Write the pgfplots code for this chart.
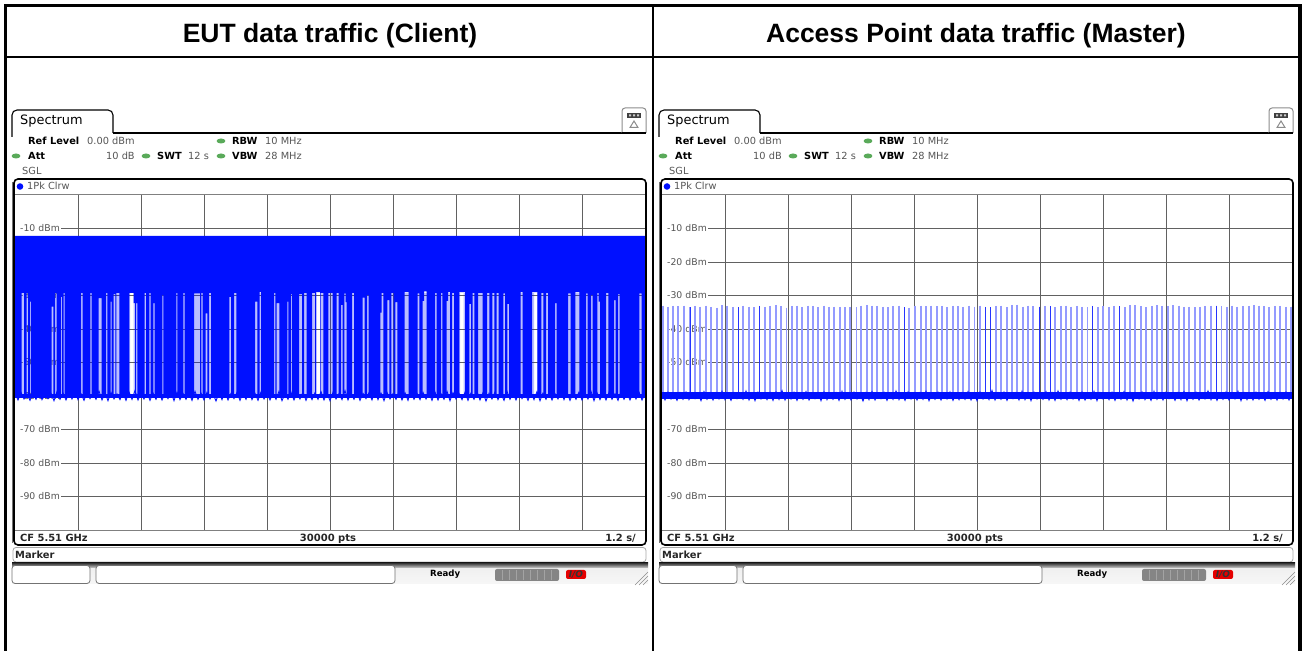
\documentclass[border=0pt]{standalone}
\usepackage{fontspec}
\usepackage{pgfplots}
\usepackage{pgfplotstable}
\pgfplotsset{compat=1.18}
\setmainfont{DejaVu Sans}
\newfontfamily\titlefont{Liberation Sans}
\definecolor{trace}{RGB}{0,16,255}
\definecolor{label}{RGB}{85,85,85}
\definecolor{led}{RGB}{90,170,90}

% noise floor of the trace, x is the trace position in display pixels, y in dBm
\pgfplotstableread[row sep=\\]{
x y\\
0 -59.1\\3 -61.2\\6 -58.9\\9 -60.9\\12 -59.3\\15 -61.3\\18 -59.0\\21 -61.0\\24 -58.8\\27 -61.1\\
30 -59.4\\33 -60.8\\36 -59.2\\39 -61.4\\42 -58.7\\45 -61.0\\48 -59.1\\51 -61.2\\54 -59.0\\57 -60.9\\
60 -58.6\\63 -61.1\\66 -59.3\\69 -61.3\\72 -59.0\\75 -60.8\\78 -59.2\\81 -61.0\\84 -58.5\\87 -61.2\\
90 -59.1\\93 -61.4\\96 -58.9\\99 -60.9\\102 -59.4\\105 -61.1\\108 -59.0\\111 -61.3\\114 -58.8\\117 -61.0\\
120 -58.4\\123 -61.2\\126 -59.2\\129 -60.9\\132 -58.9\\135 -61.3\\138 -59.1\\141 -61.0\\144 -58.7\\147 -61.2\\
150 -59.3\\153 -60.8\\156 -59.0\\159 -61.4\\162 -58.8\\165 -61.1\\168 -59.2\\171 -61.0\\174 -59.0\\177 -61.3\\
180 -58.6\\183 -61.0\\186 -59.1\\189 -61.2\\192 -58.9\\195 -60.9\\198 -59.3\\201 -61.5\\204 -59.0\\207 -61.1\\
210 -58.7\\213 -61.2\\216 -59.2\\219 -60.8\\222 -58.9\\225 -61.3\\228 -59.1\\231 -61.0\\234 -58.5\\237 -61.1\\
240 -59.2\\243 -61.3\\246 -58.8\\249 -60.9\\252 -59.1\\255 -61.2\\258 -59.0\\261 -61.0\\264 -58.6\\267 -61.4\\
270 -59.3\\273 -61.0\\276 -58.9\\279 -61.2\\282 -59.1\\285 -60.9\\288 -58.8\\291 -61.3\\294 -59.2\\297 -61.1\\
300 -59.0\\303 -61.0\\306 -58.7\\309 -61.2\\312 -59.1\\315 -61.4\\318 -58.9\\321 -60.9\\324 -59.3\\327 -61.1\\
330 -58.4\\333 -61.2\\336 -59.0\\339 -61.0\\342 -58.8\\345 -61.3\\348 -59.2\\351 -60.8\\354 -59.0\\357 -61.2\\
360 -58.6\\363 -61.1\\366 -59.1\\369 -61.4\\372 -58.9\\375 -60.9\\378 -59.3\\381 -61.0\\384 -58.7\\387 -61.2\\
390 -59.0\\393 -61.3\\396 -58.5\\399 -61.0\\402 -59.2\\405 -61.1\\408 -58.9\\411 -60.9\\414 -59.1\\417 -61.3\\
420 -58.8\\423 -61.2\\426 -59.3\\429 -61.0\\432 -58.6\\435 -61.4\\438 -59.0\\441 -60.9\\444 -59.2\\447 -61.1\\
450 -58.9\\453 -61.3\\456 -59.1\\459 -61.0\\462 -58.7\\465 -61.2\\468 -59.0\\471 -61.5\\474 -59.2\\477 -60.9\\
480 -58.8\\483 -61.1\\486 -59.3\\489 -61.3\\492 -58.6\\495 -61.0\\498 -59.1\\501 -61.2\\504 -58.9\\507 -60.8\\
510 -59.2\\513 -61.3\\516 -59.0\\519 -61.1\\522 -58.7\\525 -61.4\\528 -59.1\\531 -61.0\\534 -58.9\\537 -61.2\\
540 -59.3\\543 -60.9\\546 -58.5\\549 -61.1\\552 -59.0\\555 -61.3\\558 -59.2\\561 -61.0\\564 -58.8\\567 -61.2\\
570 -59.1\\573 -60.9\\576 -58.6\\579 -61.4\\582 -59.0\\585 -61.1\\588 -59.2\\591 -61.2\\594 -58.9\\597 -61.0\\
600 -59.3\\603 -61.3\\606 -58.7\\609 -61.0\\612 -59.1\\615 -61.2\\618 -59.0\\621 -60.9\\624 -58.8\\627 -61.2\\630 -59.2\\
}\noisetab

% burst peaks of the access point trace
\pgfplotstableread[row sep=\\]{
x y\\
1 -33.0\\6 -33.3\\11 -33.0\\16 -33.2\\22 -33.0\\28 -33.5\\33 -33.1\\38 -33.3\\44 -33.0\\49 -33.4\\
55 -33.6\\60 -32.9\\65 -33.1\\71 -33.4\\76.5 -33.5\\81 -33.0\\87 -33.3\\92 -33.5\\97.5 -33.1\\103 -33.4\\
108 -33.1\\114 -32.8\\119 -33.2\\124.5 -33.6\\130 -33.1\\135 -33.0\\140 -33.4\\146 -33.0\\151 -33.1\\156 -33.4\\
162 -33.0\\167 -33.3\\172 -33.3\\178 -33.4\\183 -33.5\\188 -33.3\\194.5 -33.5\\199 -33.0\\205 -32.8\\210 -33.0\\
215 -33.1\\221 -33.3\\226 -33.5\\231 -33.2\\237 -33.0\\242.5 -33.5\\247 -33.6\\253 -33.0\\259 -33.0\\264 -33.2\\
269 -33.0\\275 -33.2\\280 -33.1\\285 -33.4\\291 -33.0\\296 -33.2\\301 -33.4\\307 -33.0\\312.5 -33.3\\318 -33.0\\
323.5 -33.4\\328.5 -33.5\\334 -33.1\\339 -33.0\\345 -33.4\\350 -32.8\\355 -32.7\\361 -33.3\\366 -33.0\\371 -33.2\\
377.5 -33.3\\383 -33.1\\388.5 -33.2\\393 -33.4\\399 -33.1\\404 -33.0\\409 -33.3\\415 -33.1\\420 -33.3\\425.5 -33.5\\
430.5 -33.1\\436 -33.4\\441 -33.0\\447 -33.4\\452 -33.1\\457.5 -33.2\\463 -33.5\\468 -32.9\\473 -32.9\\479 -33.2\\
484 -33.5\\490 -33.1\\495 -32.9\\500 -33.0\\506 -33.1\\511 -32.9\\517 -33.0\\522 -33.4\\527 -33.3\\533 -33.5\\
538 -33.4\\543 -33.1\\549 -33.0\\554.5 -33.0\\559.5 -33.2\\565 -33.4\\570 -33.0\\575 -33.3\\581 -33.2\\587 -33.1\\
592 -32.8\\597 -33.0\\602 -33.2\\607 -33.4\\613 -33.1\\618 -33.1\\624 -33.3\\629 -33.3\\
}\peakstab

% the peaks that the screen shows sharper than the others
\pgfplotstableread[row sep=\\]{
x y\\
28 -33.5\\76.5 -33.5\\97.5 -33.1\\242.5 -33.5\\323.5 -33.4\\328.5 -33.5\\377.5 -33.3\\388.5 -33.2\\430.5 -33.1\\457.5 -33.2\\554.5 -33.0\\
}\sharppeaks

\pgfplotsset{specaxis/.style={
  set layers=standard,
  scale only axis,
  width=630bp, height=335bp,
  anchor=south west,
  xmin=0, xmax=630, ymin=-100, ymax=0,
  xtick={63,126,189,252,315,378,441,504,567},
  xticklabels={},
  ytick={-10,-20,-30,-40,-50,-60,-70,-80,-90},
  yticklabels={\dbm{-10},\dbm{-20},\dbm{-30},\dbm{-40},\dbm{-50},\dbm{-60},\dbm{-70},\dbm{-80},\dbm{-90}},
  grid=major,
  major grid style={draw=black!62, line width=.95bp},
  major tick length=0pt,
  tick style={draw=none},
  axis line style={draw=none},
  yticklabel style={anchor=west, inner sep=0pt, text width=46bp, align=left, fill=white, yshift=-1bp,
    text height=6.5bp, text depth=1.5bp, font=\fontsize{9.3bp}{10bp}\selectfont, text=label},
}}
\newcommand\dbm[1]{\hspace*{5bp}#1 dBm}

% one text of the instrument screen, placed on its baseline
\newcommand\scr[4][label]{\node[anchor=base west, inner sep=0pt, text=#1, font=\fontsize{#2bp}{#2bp}\selectfont] at #3 {#4};}
\newcommand\ledmark[1]{\fill[led] #1 ellipse (4.4bp and 2.5bp);}

% everything of the screen round the trace display
\newcommand\screen{
  % tab and its line
  \draw[black, line width=1.1bp, rounded corners=5bp] (12,137) -- (12,110) -- (113,110) -- (113,133);
  \draw[black, line width=1.1bp] (113,133) -- (622,133);
  \draw[black!45, line width=1bp, rounded corners=3bp] (622,133) -- (622,108) -- (646,108) -- (646,133);
  \draw[black, line width=1.1bp] (622,133) -- (646,133);
  \fill[black!75] (627,113) rectangle (641,118);
  \fill[white!80!black] (629,114.5) rectangle (631,116.5) (633,114.5) rectangle (635,116.5) (637,114.5) rectangle (639,116.5);
  \draw[black!45, line width=1bp] (630,127.5) -- (634,121) -- (638,127.5) -- cycle;
  \scr[black]{12.9}{(20,125)}{Spectrum}
  \scr[black]{9.8}{(28,144.5)}{\bfseries Ref Level}
  \scr{9.8}{(87,144.5)}{0.00 dBm}
  \scr[black]{9.8}{(232,144.5)}{\bfseries RBW}
  \scr{9.8}{(265,144.5)}{10 MHz}
  \scr[black]{9.8}{(28,159.5)}{\bfseries Att}
  \scr{9.8}{(106,159.5)}{10 dB}
  \scr[black]{9.8}{(157,159.5)}{\bfseries SWT}
  \scr{9.8}{(188,159.5)}{12 s}
  \scr[black]{9.8}{(232,159.5)}{\bfseries VBW}
  \scr{9.8}{(265,159.5)}{28 MHz}
  \scr{9.8}{(22,174.5)}{SGL}
  \scr{9.8}{(27,189.5)}{1Pk Clrw}
  \ledmark{(221,141)} \ledmark{(16,156)} \ledmark{(146,156)} \ledmark{(221,156)}
  \fill[trace] (20,186.5) circle (3.3bp);
  % display frame
  \draw[black, line width=1.6bp, rounded corners=4bp] (14,179) rectangle (646,545);
  \draw[black!55, line width=.9bp] (12.5,182) -- (12.5,543);
  \draw[black!50, line width=1bp] (15,195) -- (645,195);
  \draw[black!50, line width=1bp] (15,530.5) -- (645,530.5);
  \scr[black!85]{9.9}{(20,541.5)}{\bfseries CF 5.51 GHz}
  \node[anchor=base, inner sep=0pt, text=black!85, font=\fontsize{10bp}{10bp}\selectfont\bfseries] at (328,541.5) {30000 pts};
  \node[anchor=base east, inner sep=0pt, text=black!85, font=\fontsize{9.9bp}{9.9bp}\selectfont\bfseries] at (636,541.5) {1.2 s/};
  % marker line
  \draw[black!35, line width=.8bp, rounded corners=3bp] (13,547.5) rectangle (646,562);
  \scr[black!85]{9.9}{(15,558.5)}{\bfseries Marker}
  % status bar
  \shade[top color=black!80, bottom color=black!6] (12,563) rectangle (648,569);
  \shade[top color=black!6, bottom color=black!3] (12,569) rectangle (648,585);
  \draw[black!55, line width=.8bp, fill=white, rounded corners=3bp] (12,565.5) rectangle (90,583.5);
  \draw[black!55, line width=.8bp, fill=white, rounded corners=3bp] (96,565.5) rectangle (395,583.5);
  \fill[white] (12,584) rectangle (648,586);
  \node[anchor=base west, inner sep=0pt, text=black, font=\fontsize{8.6bp}{8.6bp}\selectfont\bfseries] at (430,577) {Ready};
  \fill[black!48, rounded corners=2bp] (495,569) rectangle (559,581);
  \foreach \s in {502,509,516,523,530,537,544,551} {\draw[black!36, line width=1bp] (\s,570) -- (\s,580);}
  \fill[red!90!black, rounded corners=2bp] (566,570) rectangle (586,579);
  \node[inner sep=0pt, text=black!80, font=\fontsize{9bp}{9bp}\selectfont\bfseries\itshape] at (576,574.5) {I/O};
  \draw[black!45, line width=.6bp] (635,585) -- (648,572) (639,585) -- (648,576) (643,585) -- (648,580);
}

\begin{document}
\begin{tikzpicture}

\begin{axis}[specaxis, at={(15bp,121bp)}]
  % weak bursts behind the gaps of the client trace
  \addplot[fill=trace, fill opacity=.27, draw=none] coordinates {
    (0,-29.2) (0,-59.5) (115,-59.5) (115,-29.2) (118.7,-29.2) (118.7,-59.5)
    (301.5,-59.5) (301.5,-29.2) (305,-29.2) (305,-59.5)
    (445,-59.5) (445,-29.2) (448.7,-29.2) (448.7,-59.5)
    (519,-59.5) (519,-29.2) (522.3,-29.2) (522.3,-59.5)
    (630,-59.5) (630,-29.2)} -- cycle;
  % client trace, from its top level down to the floor, with the pauses between bursts
  \addplot[fill=trace, draw=none] coordinates {
    (0,-12.2) (0,-59.5)
    (6.7,-59.5) (6.7,-29.2) (9,-29.2) (9,-59.5)
    (11.7,-59.5) (11.7,-29.2) (13,-29.2) (13,-59.5)
    (15,-59.5) (15,-31.8) (16,-31.8) (16,-59.5)
    (36.7,-59.5) (36.7,-33.3) (38.3,-33.3) (38.3,-59.5)
    (40,-59.5) (40,-29.2) (41.7,-29.2) (41.7,-59.5)
    (46,-59.5) (46,-30.4) (47,-30.4) (47,-59.5)
    (48.7,-59.5) (48.7,-29.2) (49.7,-29.2) (49.7,-59.5)
    (66,-59.5) (66,-29.2) (67.7,-29.2) (67.7,-59.5)
    (75.3,-59.5) (75.3,-29.2) (76.7,-29.2) (76.7,-59.5)
    (83.7,-59.5) (83.7,-30.8) (86.7,-30.8) (86.7,-59.5)
    (91,-59.5) (91,-29.2) (92.3,-29.2) (92.3,-59.5)
    (95.7,-59.5) (95.7,-31.8) (96.7,-31.8) (96.7,-59.5)
    (98.7,-59.5) (98.7,-29.6) (100.3,-29.6) (100.3,-59.5)
    (101.3,-59.5) (101.3,-29.2) (104.3,-29.2) (104.3,-59.5)
    (114.3,-59.5) (114.3,-29.2) (118.5,-29.2) (118.5,-32.3) (120,-32.3) (120,-59.5)
    (121,-59.5) (121,-32.3) (122.3,-32.3) (122.3,-59.5)
    (129.7,-59.5) (129.7,-29.2) (131,-29.2) (131,-59.5)
    (134.3,-59.5) (134.3,-29.2) (135.7,-29.2) (135.7,-59.5)
    (138.3,-59.5) (138.3,-32.3) (139.7,-32.3) (139.7,-59.5)
    (147.3,-59.5) (147.3,-29.8) (148.3,-29.8) (148.3,-59.5)
    (161.3,-59.5) (161.3,-29.2) (162.3,-29.2) (162.3,-59.5)
    (168.3,-59.5) (168.3,-29.2) (169.7,-29.2) (169.7,-59.5)
    (179,-59.5) (179,-29.4) (185,-29.4) (185,-59.5)
    (186.3,-59.5) (186.3,-29.2) (187.7,-29.2) (187.7,-59.5)
    (190.7,-59.5) (190.7,-35.3) (192.3,-35.3) (192.3,-59.5)
    (194,-59.5) (194,-29.2) (196,-29.2) (196,-59.5)
    (214.3,-59.5) (214.3,-30.4) (216,-30.4) (216,-59.5)
    (219,-59.5) (219,-29.2) (221.3,-29.2) (221.3,-59.5)
    (240,-59.5) (240,-31.8) (242.3,-31.8) (242.3,-59.5)
    (244.7,-59.5) (244.7,-29.0) (246,-29.0) (246,-59.5)
    (259,-59.5) (259,-29.2) (260.3,-29.2) (260.3,-59.5)
    (261.7,-59.5) (261.7,-32.3) (264.3,-32.3) (264.3,-59.5)
    (272.3,-59.5) (272.3,-31.8) (273.3,-31.8) (273.3,-59.5)
    (276,-59.5) (276,-29.6) (277,-29.6) (277,-59.5)
    (284,-59.5) (284,-29.6) (287,-29.6) (287,-59.5)
    (289,-59.5) (289,-29.2) (291.7,-29.2) (291.7,-59.5)
    (297,-59.5) (297,-29.2) (300,-29.2) (300,-59.5)
    (301,-59.5) (301,-29.0) (305,-29.0) (305,-59.5)
    (305.7,-59.5) (305.7,-29.2) (308.3,-29.2) (308.3,-59.5)
    (313.3,-59.5) (313.3,-29.2) (317.7,-29.2) (317.7,-59.5)
    (321.7,-59.5) (321.7,-29.2) (323.7,-29.2) (323.7,-59.5)
    (326,-59.5) (326,-32.8) (327.7,-32.8) (327.7,-59.5)
    (329.3,-59.5) (329.3,-29.4) (330.5,-29.4) (330.5,-32) (331.7,-32) (331.7,-59.5)
    (337,-59.5) (337,-29.2) (339,-29.2) (339,-59.5)
    (347.7,-59.5) (347.7,-30.6) (349.7,-30.6) (349.7,-59.5)
    (352,-59.5) (352,-29.8) (353.7,-29.8) (353.7,-59.5)
    (365.3,-59.5) (365.3,-35.1) (366.5,-35.1) (366.5,-29.2) (368.3,-29.2) (368.3,-59.5)
    (372.3,-59.5) (372.3,-31.4) (374.3,-31.4) (374.3,-59.5)
    (376.3,-59.5) (376.3,-29.2) (378.7,-29.2) (378.7,-59.5)
    (380.3,-59.5) (380.3,-32) (382.3,-32) (382.3,-59.5)
    (389.7,-59.5) (389.7,-29.0) (393.7,-29.0) (393.7,-59.5)
    (402.7,-59.5) (402.7,-29.4) (404.3,-29.4) (404.3,-59.5)
    (407.7,-59.5) (407.7,-31.6) (409,-31.6) (409,-28.8) (411.7,-28.8) (411.7,-59.5)
    (420,-59.5) (420,-29.2) (421.7,-29.2) (421.7,-59.5)
    (426,-59.5) (426,-29.2) (427.3,-29.2) (427.3,-59.5)
    (431.7,-59.5) (431.7,-31.6) (433,-31.6) (433,-29.0) (435,-29.0) (435,-59.5)
    (437,-59.5) (437,-29.2) (439,-29.2) (439,-59.5)
    (444.3,-59.5) (444.3,-29.0) (450,-29.0) (450,-59.5)
    (454.3,-59.5) (454.3,-32.5) (456,-32.5) (456,-59.5)
    (457.7,-59.5) (457.7,-29.2) (459.3,-29.2) (459.3,-59.5)
    (463,-59.5) (463,-29.2) (467.7,-29.2) (467.7,-59.5)
    (472,-59.5) (472,-29.2) (474.3,-29.2) (474.3,-59.5)
    (477.3,-59.5) (477.3,-29.2) (479.3,-29.2) (479.3,-59.5)
    (481.7,-59.5) (481.7,-29.2) (483.7,-29.2) (483.7,-59.5)
    (488.3,-59.5) (488.3,-29.4) (490,-29.4) (490,-59.5)
    (492.3,-59.5) (492.3,-32.5) (494,-32.5) (494,-59.5)
    (505.7,-59.5) (505.7,-29.0) (507.7,-29.0) (507.7,-59.5)
    (517,-59.5) (517,-29.0) (522.3,-29.0) (522.3,-59.5)
    (526.3,-59.5) (526.3,-29.2) (528.3,-29.2) (528.3,-59.5)
    (531,-59.5) (531,-29.2) (533,-29.2) (533,-59.5)
    (540,-59.5) (540,-32.3) (541.7,-32.3) (541.7,-59.5)
    (553,-59.5) (553,-29.4) (555.7,-29.4) (555.7,-59.5)
    (560.3,-59.5) (560.3,-29.0) (564.3,-29.0) (564.3,-59.5)
    (571,-59.5) (571,-29.4) (572.7,-29.4) (572.7,-59.5)
    (576,-59.5) (576,-29.8) (577.7,-29.8) (577.7,-59.5)
    (582.3,-59.5) (582.3,-29.2) (583.5,-29.2) (583.5,-31.8) (585,-31.8) (585,-59.5)
    (591,-59.5) (591,-29.2) (593.3,-29.2) (593.3,-59.5)
    (599,-59.5) (599,-31.4) (600.7,-31.4) (600.7,-59.5)
    (603,-59.5) (603,-29.6) (604.7,-29.6) (604.7,-59.5)
    (624.3,-59.5) (624.3,-29.4) (626.7,-29.4) (626.7,-59.5)
    (630,-59.5) (630,-12.2)} -- cycle;
  \addplot[trace, line width=4bp] coordinates {(0,-60) (630,-60)};
  \addplot[trace, line width=.9bp] table[x=x,y=y] {\noisetab};
\end{axis}

\begin{axis}[specaxis, at={(662bp,121bp)}]
  \addplot[draw=none, mark=none, error bars/.cd, y dir=minus, y fixed=27, error mark=none,
    error bar style={draw=trace!42!white, line width=1.5bp}] table[x=x,y=y] {\peakstab};
  \addplot[draw=none, mark=none, error bars/.cd, y dir=minus, y fixed=27, error mark=none,
    error bar style={draw=trace!85!white, line width=1bp}] table[x=x,y=y] {\sharppeaks};
  \addplot[trace, line width=7bp] coordinates {(0,-60) (630,-60)};
  \addplot[trace, line width=.9bp] table[x=x,y=y] {\noisetab};
\end{axis}

\begin{scope}[x=1bp, y=-1bp, shift={(0,651bp)}]
  \screen
  \begin{scope}[xshift=647bp]
    \screen
  \end{scope}
  % table round the two screens
  \draw[black, line width=3.3bp] (5.7,651) -- (5.7,5.7) -- (1300,5.7) -- (1300,651);
  \draw[black, line width=2.2bp] (6,57) -- (1300,57);
  \draw[black, line width=2.4bp] (653,6) -- (653,651);
  \node[anchor=base, inner sep=0pt, font=\titlefont\fontsize{26.5bp}{26.5bp}\selectfont\bfseries] at (330,42.5) {EUT data traffic (Client)};
  \node[anchor=base, inner sep=0pt, font=\titlefont\fontsize{26.5bp}{26.5bp}\selectfont\bfseries] at (976,42.5) {Access Point data traffic (Master)};
\end{scope}
\pgfresetboundingbox
\useasboundingbox (0,0) rectangle (1304bp,651bp);
\end{tikzpicture}
\end{document}
